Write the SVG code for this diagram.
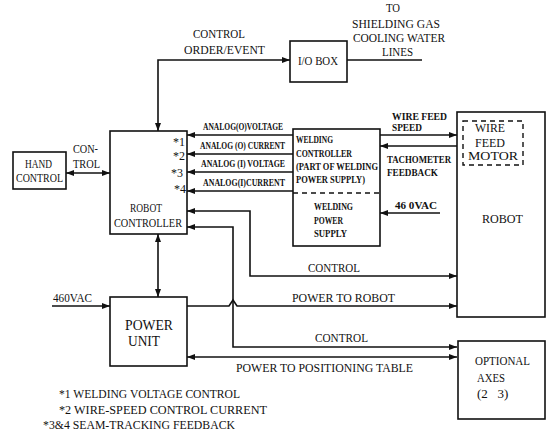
<svg xmlns="http://www.w3.org/2000/svg" width="550" height="434" viewBox="0 0 550 434" font-family="'Liberation Serif','Times New Roman',serif">
<style>
.b{fill:none;stroke:#111;stroke-width:1.6}
.d{fill:none;stroke:#111;stroke-width:1.4;stroke-dasharray:5,4}
.c{fill:none;stroke:#111;stroke-width:1.6}
text{font-family:'Liberation Serif','Times New Roman',serif;font-size:13px;fill:#111}
.s{font-size:10.5px;font-weight:bold}
.w{font-size:10px;font-weight:bold}
.a{font-size:10px;font-weight:bold}
.f{font-size:11.5px}
.n{font-size:12px}
</style>
<defs>
<marker id="a" viewBox="0 0 8 6" refX="8" refY="3" markerWidth="8" markerHeight="6" orient="auto-start-reverse" markerUnits="userSpaceOnUse"><path d="M0,0 L8,3 L0,6 z" fill="#111"/></marker>
</defs>
<rect width="550" height="434" fill="#fff"/>
<g id="connectors">
<path class="c" d="M66,173 H110" marker-start="url(#a)" marker-end="url(#a)"/>
<path class="c" d="M158,131 V60 H290" marker-start="url(#a)" marker-end="url(#a)"/>
<path class="c" d="M347,60 H422"/>
<path class="c" d="M293,135 H187" marker-end="url(#a)"/>
<path class="c" d="M293,154 H187" marker-end="url(#a)"/>
<path class="c" d="M293,172 H187" marker-end="url(#a)"/>
<path class="c" d="M293,191 H187" marker-end="url(#a)"/>
<path class="c" d="M380,135 H457" marker-end="url(#a)"/>
<path class="c" d="M457,146 H380" marker-end="url(#a)"/>
<path class="c" d="M440,213 H380" marker-end="url(#a)"/>
<path class="c" d="M457,276 H250 V211 H187" marker-start="url(#a)" marker-end="url(#a)"/>
<path class="c" d="M457,347 H233 V227 H187" marker-start="url(#a)" marker-end="url(#a)"/>
<path class="c" d="M158,234 V297" marker-start="url(#a)" marker-end="url(#a)"/>
<path class="c" d="M52,306 H110" marker-end="url(#a)"/>
<path class="c" d="M187,306 H229 L233,300 L237,306 H457" marker-end="url(#a)"/>
<path class="c" d="M187,357 H457" marker-start="url(#a)" marker-end="url(#a)"/>
</g>
<g id="hand-control">
<rect class="b" x="13" y="152" width="53" height="37"/>
<text x="25" y="168" textLength="27" lengthAdjust="spacingAndGlyphs">HAND</text>
<text x="16" y="182" textLength="47" lengthAdjust="spacingAndGlyphs">CONTROL</text>
</g>
<g id="robot-controller">
<rect class="b" x="110" y="131" width="77" height="103"/>
<text x="130" y="212" textLength="32" lengthAdjust="spacingAndGlyphs">ROBOT</text>
<text x="114" y="227" textLength="68" lengthAdjust="spacingAndGlyphs">CONTROLLER</text>
<text class="n" x="173" y="146">*1</text>
<text class="n" x="173" y="160">*2</text>
<text class="n" x="171" y="177">*3</text>
<text class="n" x="174" y="193">*4</text>
</g>
<g id="io-box">
<rect class="b" x="290" y="41" width="57" height="41"/>
<text x="298" y="65" textLength="40" lengthAdjust="spacingAndGlyphs">I/O BOX</text>
</g>
<g id="welding-controller">
<rect class="b" x="293" y="129" width="87" height="117"/>
<line class="d" x1="293" y1="193" x2="380" y2="193"/>
<text class="w" x="296" y="143" textLength="37" lengthAdjust="spacingAndGlyphs">WELDING</text>
<text class="w" x="296" y="156.5" textLength="56" lengthAdjust="spacingAndGlyphs">CONTROLLER</text>
<text class="w" x="296" y="170" textLength="82" lengthAdjust="spacingAndGlyphs">(PART OF WELDING</text>
<text class="w" x="296" y="183" textLength="69" lengthAdjust="spacingAndGlyphs">POWER SUPPLY)</text>
<text class="w" x="314" y="210" textLength="39" lengthAdjust="spacingAndGlyphs">WELDING</text>
<text class="w" x="314" y="223.5" textLength="29" lengthAdjust="spacingAndGlyphs">POWER</text>
<text class="w" x="314" y="237" textLength="33" lengthAdjust="spacingAndGlyphs">SUPPLY</text>
</g>
<g id="robot">
<rect class="b" x="457" y="112" width="88" height="205"/>
<rect class="d" x="463" y="121" width="60" height="44"/>
<text class="n" x="475" y="132" textLength="30" lengthAdjust="spacingAndGlyphs">WIRE</text>
<text class="n" x="475" y="147" textLength="30" lengthAdjust="spacingAndGlyphs">FEED</text>
<text class="n" x="468" y="160" textLength="50" lengthAdjust="spacingAndGlyphs">MOTOR</text>
<text x="482" y="223" textLength="41" lengthAdjust="spacingAndGlyphs">ROBOT</text>
</g>
<g id="power-unit">
<rect class="b" x="110" y="297" width="77" height="69"/>
<text x="125" y="330" style="font-size:14px" textLength="48" lengthAdjust="spacingAndGlyphs">POWER</text>
<text x="128" y="346" style="font-size:14px" textLength="32" lengthAdjust="spacingAndGlyphs">UNIT</text>
</g>
<g id="optional-axes">
<rect class="b" x="458" y="341" width="87" height="78"/>
<text x="475" y="365" textLength="55" lengthAdjust="spacingAndGlyphs">OPTIONAL</text>
<text x="477" y="382" textLength="28" lengthAdjust="spacingAndGlyphs">AXES</text>
<text x="477" y="398" xml:space="preserve">(2   3)</text>
</g>
<g id="labels">
<text x="193" y="38" textLength="52" lengthAdjust="spacingAndGlyphs">CONTROL</text>
<text x="184" y="54" textLength="81" lengthAdjust="spacingAndGlyphs">ORDER/EVENT</text>
<text x="386" y="12" textLength="14" lengthAdjust="spacingAndGlyphs">TO</text>
<text x="352" y="28" textLength="88" lengthAdjust="spacingAndGlyphs">SHIELDING GAS</text>
<text x="353" y="42" textLength="92" lengthAdjust="spacingAndGlyphs">COOLING WATER</text>
<text x="382" y="56" textLength="31" lengthAdjust="spacingAndGlyphs">LINES</text>
<text x="73" y="153" textLength="25" lengthAdjust="spacingAndGlyphs">CON-</text>
<text x="73" y="168" textLength="27" lengthAdjust="spacingAndGlyphs">TROL</text>
<text class="a" transform="translate(203,130) scale(0.75,1)" textLength="106.7" lengthAdjust="spacingAndGlyphs">ANALOG(O)VOLTAGE</text>
<text class="a" transform="translate(200,149) scale(0.75,1)" textLength="113.3" lengthAdjust="spacingAndGlyphs">ANALOG (O) CURRENT</text>
<text class="a" transform="translate(201,167) scale(0.75,1)" textLength="112" lengthAdjust="spacingAndGlyphs">ANALOG (I) VOLTAGE</text>
<text class="a" transform="translate(203,186) scale(0.75,1)" textLength="109.3" lengthAdjust="spacingAndGlyphs">ANALOG(I)CURRENT</text>
<text class="s" x="392" y="120" textLength="55" lengthAdjust="spacingAndGlyphs">WIRE FEED</text>
<text class="s" x="392" y="131" textLength="30" lengthAdjust="spacingAndGlyphs">SPEED</text>
<text class="s" x="387" y="163" textLength="64" lengthAdjust="spacingAndGlyphs">TACHOMETER</text>
<text class="s" x="387" y="176" textLength="51" lengthAdjust="spacingAndGlyphs">FEEDBACK</text>
<text class="s" x="395" y="209" textLength="42" lengthAdjust="spacingAndGlyphs">46 0VAC</text>
<text x="53" y="302" textLength="39" lengthAdjust="spacingAndGlyphs">460VAC</text>
<text x="308" y="272" textLength="52" lengthAdjust="spacingAndGlyphs">CONTROL</text>
<text x="292" y="302" textLength="103" lengthAdjust="spacingAndGlyphs">POWER TO ROBOT</text>
<text x="315" y="342" textLength="53" lengthAdjust="spacingAndGlyphs">CONTROL</text>
<text x="236" y="372" textLength="177" lengthAdjust="spacingAndGlyphs">POWER TO POSITIONING TABLE</text>
<text class="f" x="59" y="398" textLength="181" lengthAdjust="spacingAndGlyphs">*1 WELDING VOLTAGE CONTROL</text>
<text class="f" x="59" y="414" textLength="208" lengthAdjust="spacingAndGlyphs">*2 WIRE-SPEED CONTROL CURRENT</text>
<text class="f" x="43" y="429" textLength="192" lengthAdjust="spacingAndGlyphs">*3&amp;4 SEAM-TRACKING FEEDBACK</text>
</g>
</svg>
